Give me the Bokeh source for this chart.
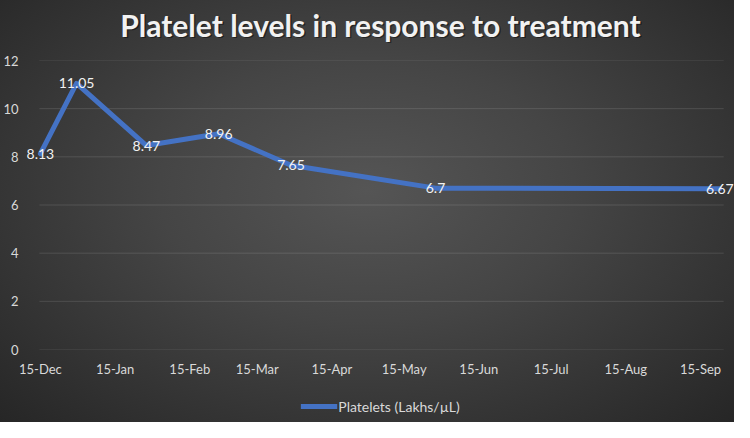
from datetime import datetime, timedelta

from bokeh.core.properties import value
from bokeh.embed import file_html
from bokeh.layouts import column
from bokeh.models import (ColumnDataSource, FixedTicker, Label, LabelSet,
                          Legend, LegendItem, Range1d)
from bokeh.plotting import figure
from bokeh.resources import INLINE

# ---- data ----
dates = ["2021-12-15", "2021-12-30", "2022-01-28", "2022-02-27",
         "2022-03-29", "2022-05-28", "2022-09-23"]
platelets = [8.13, 11.05, 8.47, 8.96, 7.65, 6.7, 6.67]
point_labels = ["8.13", "11.05", "8.47", "8.96", "7.65", "6.7", "6.67"]

tick_dates = ["2021-12-15", "2022-01-15", "2022-02-15", "2022-03-15",
              "2022-04-15", "2022-05-15", "2022-06-15", "2022-07-15",
              "2022-08-15", "2022-09-15"]
tick_labels = ["15-Dec", "15-Jan", "15-Feb", "15-Mar", "15-Apr", "15-May",
               "15-Jun", "15-Jul", "15-Aug", "15-Sep"]
y_ticks = [0, 2, 4, 6, 8, 10, 12]
series_name = "Platelets (Lakhs/\u00b5L)"
title_text = "Platelet levels in response to treatment"

FONT = "Lato"
TXT = "#d9d9d9"
LINE = "#4472C4"
W = 734


def bare(fig):
    fig.background_fill_alpha = 0
    fig.border_fill_alpha = 0
    fig.outline_line_color = None
    return fig


xs = [datetime.strptime(d, "%Y-%m-%d") for d in dates]
source = ColumnDataSource(dict(x=xs, y=platelets, label=point_labels))

# ---------------- title strip ----------------
TH = 50
pt = bare(figure(width=W, height=TH, output_backend="svg",
                 toolbar_location=None, x_range=Range1d(0, W),
                 y_range=Range1d(0, TH), min_border=0,
                 x_axis_location=None, y_axis_location=None))
pt.grid.visible = False
pt.add_layout(Label(x=W / 2 + 1.5, y=TH - 25.5, text=title_text,
                    text_align="center", text_baseline="middle",
                    text_font=FONT, text_font_size="30px",
                    text_font_style="bold", text_color="#000000",
                    text_alpha=0.45))
pt.add_layout(Label(x=W / 2, y=TH - 24, text=title_text,
                    text_align="center", text_baseline="middle",
                    text_font=FONT, text_font_size="30px",
                    text_font_style="bold", text_color="#f2f2f2"))

# ---------------- chart ----------------
# frame is a little wider than the gridded area so edge labels are not clipped
x_start = xs[0] - timedelta(days=5.77)
x_end = xs[0] + timedelta(days=288.1)
grid_x0 = xs[0] - timedelta(hours=10)
grid_x1 = xs[0] + timedelta(days=283.6)

p = bare(figure(width=W, height=340, x_axis_type="datetime",
                output_backend="svg", toolbar_location=None,
                x_range=Range1d(x_start, x_end), y_range=Range1d(0, 12),
                min_border_left=21, min_border_right=0,
                min_border_top=10, min_border_bottom=41))

p.segment(x0=grid_x0, x1=grid_x1, y0=y_ticks, y1=y_ticks,
          line_color="#ffffff", line_alpha=0.12, line_width=1)

r = p.line("x", "y", source=source, line_color=LINE, line_width=5,
           line_join="round", line_cap="round")

p.add_layout(LabelSet(x="x", y="y", text="label", source=source,
                      text_align="center", text_baseline="middle",
                      text_color="#f2f2f2", text_font=value(FONT),
                      text_font_size="14px"))

ms = [datetime.strptime(d, "%Y-%m-%d").timestamp() * 1000 for d in tick_dates]
p.xaxis.ticker = FixedTicker(ticks=ms)
p.xaxis.major_label_overrides = {m: l for m, l in zip(ms, tick_labels)}
p.yaxis.ticker = FixedTicker(ticks=y_ticks)
for ax in (p.xaxis[0], p.yaxis[0]):
    ax.axis_line_color = None
    ax.major_tick_line_color = None
    ax.minor_tick_line_color = None
    ax.major_label_text_color = TXT
    ax.major_label_text_font = FONT
    ax.major_label_text_font_size = "13px"
p.yaxis.major_label_standoff = 2
p.xaxis.major_label_standoff = 5
p.xgrid.grid_line_color = None
p.ygrid.grid_line_color = None

# ---------------- legend strip ----------------
pl = bare(figure(width=W, height=32, output_backend="svg",
                 toolbar_location=None, x_range=Range1d(0, 1),
                 y_range=Range1d(0, 1), min_border=0,
                 x_axis_location=None, y_axis_location=None))
pl.grid.visible = False
# same series, outside this strip's view: only its legend sample is seen
rl = pl.line("x", "y", source=source, line_color=LINE, line_width=5)
pl.add_layout(Legend(items=[LegendItem(label=series_name, renderers=[rl])],
                     orientation="horizontal", location="center",
                     background_fill_alpha=0, border_line_color=None,
                     label_text_color=TXT, label_text_font=FONT,
                     label_text_font_size="14px", glyph_width=37,
                     label_standoff=1, margin=0, padding=2))

layout = column(pt, p, pl, spacing=0)
layout.styles = {"background": "radial-gradient(ellipse at 50% 45%, #555555 0%, #454545 40%, #262626 100%)"}

open("out.html", "w").write(file_html(layout, INLINE))
